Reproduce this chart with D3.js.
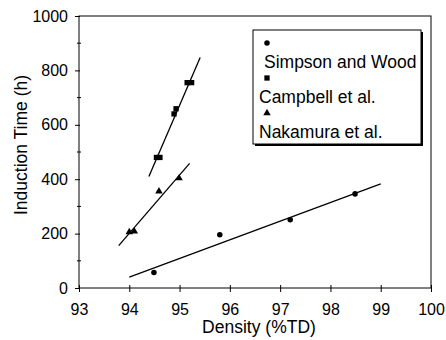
<!DOCTYPE html>
<html>
<head>
<meta charset="utf-8">
<script src="https://cdnjs.cloudflare.com/ajax/libs/d3/7.8.5/d3.min.js"></script>
<style>
body{margin:0;background:#fff}
text{font-family:"Liberation Sans",Arial,Helvetica,sans-serif;fill:#000}
</style>
</head>
<body>
<div id="chart"></div>
<script>
// data
var seriesNames=['Simpson and Wood','Campbell et al.','Nakamura et al.']
var simpsonX=[94.49,95.80,97.20,98.49]
var simpsonY=[57,196,251,346]
var campbellX=[94.54,94.61,94.89,94.93,95.15,95.24]
var campbellY=[480,480,640,659,755,755]
var nakamuraX=[94.0,94.10,94.59,94.99]
var nakamuraY=[202,205,352,400]
// fitted lines [x0,y0,x1,y1]
var simpsonFit=[94.0,40,99.0,383]
var campbellFit=[94.39,410,95.41,847]
var nakamuraFit=[93.79,156,95.20,458]
var xTicks=[93,94,95,96,97,98,99,100]
var yTicks=[0,200,400,600,800,1000]
var yMinor=[100,300,500,700,900]

var W=446,H=340
var margin={left:79,right:15,top:16,bottom:52}
var svg=d3.select('#chart').append('svg').attr('width',W).attr('height',H)
var x=d3.scaleLinear().domain([93,100]).range([margin.left,W-margin.right])
var y=d3.scaleLinear().domain([0,1000]).range([H-margin.bottom,margin.top])

// frame
svg.append('rect')
    .attr('x',x(93)).attr('y',y(1000))
    .attr('width',x(100)-x(93)).attr('height',y(0)-y(1000))
    .attr('fill','none').attr('stroke','#000').attr('stroke-width',1)

// x axis
var xaxis=d3.axisBottom(x).tickValues(xTicks).tickFormat(d3.format('d')).tickSize(4).tickPadding(12)
var gx=svg.append('g').attr('transform','translate(0,'+y(0)+')').call(xaxis)
gx.select('.domain').remove()
gx.selectAll('.tick line').attr('y1',-3).attr('stroke','#000')
gx.selectAll('.tick text').style('font-size','16px').attr('dy','0.71em')

// y axis
var yaxis=d3.axisLeft(y).tickValues(yTicks).tickFormat(d3.format('d')).tickSize(4).tickPadding(7)
var gy=svg.append('g').attr('transform','translate('+x(93)+',0)').call(yaxis)
gy.select('.domain').remove()
gy.selectAll('.tick line').attr('x1',-4).attr('x2',1).attr('stroke','#000')
gy.selectAll('.tick text').style('font-size','16px')
gy.selectAll('.minor').data(yMinor).enter().append('line')
    .attr('x1',-2).attr('x2',2)
    .attr('y1',d=>y(d)).attr('y2',d=>y(d))
    .attr('stroke','#000')

// axis titles
svg.append('text').attr('x',259).attr('y',333)
    .attr('text-anchor','middle').style('font-size','17.5px').text('Density (%TD)')
svg.append('text').attr('transform','translate(27,145) rotate(-90)')
    .attr('text-anchor','middle').style('font-size','17.5px').text('Induction Time (h)')

// fit lines
var fits=[simpsonFit,campbellFit,nakamuraFit]
svg.selectAll('.fit').data(fits).enter().append('line')
    .attr('x1',d=>x(d[0])).attr('y1',d=>y(d[1]))
    .attr('x2',d=>x(d[2])).attr('y2',d=>y(d[3]))
    .attr('stroke','#000').attr('stroke-width',1.3)

// markers
function pts(xs,ys){return xs.map((v,i)=>[v,ys[i]])}
var circ=d3.symbol().type(d3.symbolCircle).size(24)
var sq=d3.symbol().type(d3.symbolSquare).size(28)
var tri=d3.symbol().type(d3.symbolTriangle).size(24)
svg.selectAll('.s1').data(pts(simpsonX,simpsonY)).enter().append('path')
    .attr('d',circ).attr('transform',d=>'translate('+x(d[0])+','+y(d[1])+')').attr('fill','#000')
svg.selectAll('.s2').data(pts(campbellX,campbellY)).enter().append('path')
    .attr('d',sq).attr('transform',d=>'translate('+x(d[0])+','+y(d[1])+')').attr('fill','#000')
svg.selectAll('.s3').data(pts(nakamuraX,nakamuraY)).enter().append('path')
    .attr('d',tri).attr('transform',d=>'translate('+x(d[0])+','+(y(d[1])-1)+')').attr('fill','#000')

// legend
var lg=svg.append('g').attr('transform','translate(253,30)')
lg.append('rect').attr('x',2).attr('y',2).attr('width',168).attr('height',114).attr('fill','#000')
lg.append('rect').attr('x',0).attr('y',0).attr('width',168).attr('height',114)
    .attr('fill','#fff').attr('stroke','#000').attr('stroke-width',1)
var syms=[circ,sq,tri]
var textX=[11,6,6]
seriesNames.forEach(function(n,i){
    lg.append('path').attr('d',syms[i]).attr('fill','#000')
        .attr('transform','translate(14,'+(13+i*35)+')')
    lg.append('text').attr('x',textX[i]).attr('y',38+i*35)
        .style('font-size','17.5px').text(n)
})
</script>
</body>
</html>
